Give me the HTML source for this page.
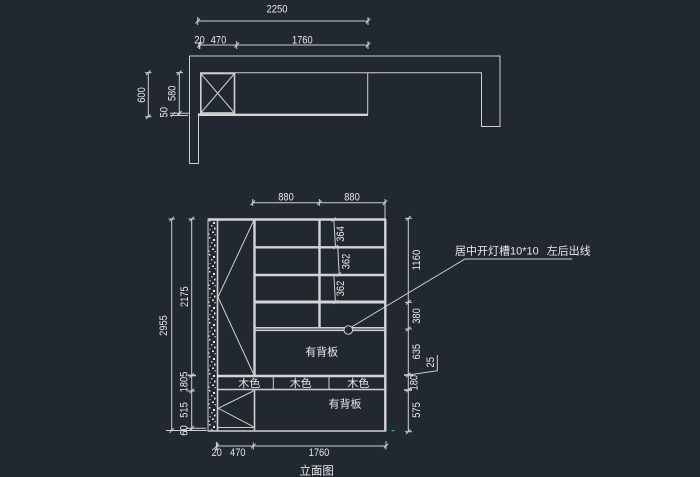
<!DOCTYPE html>
<html>
<head>
<meta charset="utf-8">
<style>
html,body{margin:0;padding:0;background:#222830;}
svg{display:block;}
.t{fill:#e8e8e8;font-family:"Liberation Sans","Noto Sans CJK SC",sans-serif;font-size:11px;}
.c{fill:#e8e8e8;font-family:"Liberation Sans","Noto Sans CJK SC",sans-serif;font-size:11px;}
.l{stroke:#cfcfcf;stroke-width:1;fill:none;}
.k{stroke:#d4d4d4;stroke-width:2.4;fill:none;}
.m{stroke:#cfcfcf;stroke-width:1.6;fill:none;}
</style>
</head>
<body>
<svg width="700" height="477" viewBox="0 0 700 477" xmlns="http://www.w3.org/2000/svg">
<defs>
<pattern id="sp" x="208" y="219" width="8" height="17" patternUnits="userSpaceOnUse">
<rect x="1" y="1" width="1.5" height="1.5" fill="#e0e0e0"/>
<rect x="5" y="3" width="2" height="2" fill="#e8e8e8"/>
<rect x="3" y="6" width="1.5" height="1.5" fill="#d0d0d0"/>
<rect x="6" y="8.5" width="1.5" height="2" fill="#e8e8e8"/>
<rect x="1.5" y="10" width="1.2" height="1.2" fill="#c8c8c8"/>
<rect x="4" y="12.5" width="2" height="1.5" fill="#e0e0e0"/>
<rect x="0.5" y="14.5" width="1.2" height="1.2" fill="#d8d8d8"/>
<rect x="6.5" y="15" width="1.3" height="1.3" fill="#d0d0d0"/>
</pattern>
</defs>
<rect width="700" height="477" fill="#222830"/>

<!-- ===== TOP PLAN ===== -->
<line class="l" x1="197.7" y1="21" x2="368" y2="21"/>
<line class="l" x1="197.7" y1="17" x2="197.7" y2="25"/>
<line class="l" x1="195.5" y1="23.5" x2="200" y2="18.5"/>
<line class="l" x1="368" y1="17" x2="368" y2="25"/>
<line class="l" x1="365.8" y1="23.5" x2="370.3" y2="18.5"/>
<text class="t" x="277" y="12.5" text-anchor="middle" textLength="21" lengthAdjust="spacingAndGlyphs">2250</text>

<line class="l" x1="198" y1="45" x2="368" y2="45"/>
<line class="m" x1="199.5" y1="42" x2="199.5" y2="49"/>
<line class="l" x1="197.3" y1="47.5" x2="201.8" y2="42.5"/>
<line class="l" x1="236.7" y1="41" x2="236.7" y2="49"/>
<line class="l" x1="234.5" y1="47.5" x2="239" y2="42.5"/>
<line class="l" x1="368" y1="41" x2="368" y2="49"/>
<line class="l" x1="365.8" y1="47.5" x2="370.3" y2="42.5"/>
<text class="t" x="199.5" y="43.5" text-anchor="middle" textLength="10.5" lengthAdjust="spacingAndGlyphs">20</text>
<text class="t" x="218.5" y="43.5" text-anchor="middle" textLength="15.5" lengthAdjust="spacingAndGlyphs">470</text>
<text class="t" x="302.3" y="43.5" text-anchor="middle" textLength="20.7" lengthAdjust="spacingAndGlyphs">1760</text>

<path class="l" d="M198.5,113 V163.5 H189.5 V56 H500 V126.5 H481.5 V72.7 H200"/>
<line class="l" x1="367.7" y1="72.7" x2="367.7" y2="115"/>
<rect class="m" x="200.8" y="73.5" width="33.7" height="39.5"/>
<line class="l" x1="200.8" y1="73.5" x2="234.5" y2="113"/>
<line class="l" x1="234.5" y1="73.5" x2="200.8" y2="113"/>
<line class="k" x1="198" y1="114.8" x2="368" y2="114.8"/>

<line class="l" x1="148.3" y1="72.7" x2="148.3" y2="116.7"/>
<line class="l" x1="145" y1="72.7" x2="151.5" y2="72.7"/>
<line class="l" x1="146" y1="75" x2="150.6" y2="70.4"/>
<line class="l" x1="145" y1="116.7" x2="151.5" y2="116.7"/>
<line class="l" x1="146" y1="119" x2="150.6" y2="114.4"/>
<text class="t" transform="translate(145,95) rotate(-90)" text-anchor="middle" textLength="15.5" lengthAdjust="spacingAndGlyphs">600</text>

<line class="l" x1="179.3" y1="72.7" x2="179.3" y2="116"/>
<line class="l" x1="176" y1="72.7" x2="183" y2="72.7"/>
<line class="l" x1="177" y1="75" x2="181.6" y2="70.4"/>
<line class="l" x1="170" y1="113.3" x2="190" y2="113.3"/>
<line class="l" x1="170" y1="115.5" x2="188" y2="115.5"/>
<line class="l" x1="177" y1="115.6" x2="181.6" y2="111"/>
<line class="l" x1="171" y1="117" x2="175" y2="112"/>
<text class="t" transform="translate(175.5,93.3) rotate(-90)" text-anchor="middle" textLength="15.5" lengthAdjust="spacingAndGlyphs">580</text>
<text class="t" transform="translate(167.5,112.3) rotate(-90)" text-anchor="middle" textLength="10.5" lengthAdjust="spacingAndGlyphs">50</text>

<!-- ===== ELEVATION ===== -->
<line class="l" x1="252.7" y1="202.7" x2="385" y2="202.7"/>
<line class="l" x1="252.7" y1="199" x2="252.7" y2="206"/>
<line class="l" x1="250.5" y1="205" x2="255" y2="200.4"/>
<line class="l" x1="319.3" y1="199" x2="319.3" y2="206"/>
<line class="l" x1="317.1" y1="205" x2="321.6" y2="200.4"/>
<line class="l" x1="385" y1="199" x2="385" y2="219"/>
<line class="l" x1="382.8" y1="205" x2="387.3" y2="200.4"/>
<text class="t" x="286" y="200.3" text-anchor="middle" textLength="15.5" lengthAdjust="spacingAndGlyphs">880</text>
<text class="t" x="352" y="200.3" text-anchor="middle" textLength="15.5" lengthAdjust="spacingAndGlyphs">880</text>

<rect x="208.5" y="219.5" width="8" height="211.5" fill="url(#sp)"/>
<line class="l" x1="208" y1="219.3" x2="208" y2="431.5"/>
<line class="m" x1="217.5" y1="219.3" x2="217.5" y2="431"/>

<line class="k" x1="207.7" y1="219.5" x2="386" y2="219.5"/>
<line class="k" x1="254.5" y1="219" x2="254.5" y2="376"/>
<line class="k" x1="385.3" y1="219" x2="385.3" y2="431.5"/>
<line class="k" x1="319.5" y1="219" x2="319.5" y2="328"/>
<line class="k" x1="254" y1="247.3" x2="385" y2="247.3"/>
<line class="k" x1="254" y1="275" x2="385" y2="275"/>
<line class="k" x1="254" y1="302" x2="385" y2="302" style="stroke-width:3"/>
<line class="m" x1="254" y1="327.8" x2="385" y2="327.8"/>
<line class="m" x1="254" y1="330.3" x2="385" y2="330.3"/>

<polyline class="l" points="254,220 218,297 254,375"/>

<line class="k" x1="217.5" y1="376" x2="385" y2="376"/>
<line class="m" x1="217.5" y1="389.5" x2="385" y2="389.5"/>
<line class="l" x1="273.3" y1="376" x2="273.3" y2="389.5"/>
<line class="l" x1="329" y1="376" x2="329" y2="389.5"/>

<line class="m" x1="254.5" y1="389.5" x2="254.5" y2="430.5"/>
<polyline class="l" points="253.3,391 218.3,408.3 253.3,426.7"/>
<line class="l" x1="218" y1="427.5" x2="254.5" y2="427.5"/>
<line class="m" x1="207.7" y1="431" x2="386" y2="431"/>
<rect x="391.5" y="430" width="3" height="1.3" fill="#20b0b0"/>

<text class="c" x="321.7" y="355.5" text-anchor="middle">有背板</text>
<text class="c" x="345" y="407.5" text-anchor="middle">有背板</text>
<text class="c" x="249.3" y="387" text-anchor="middle">木色</text>
<text class="c" x="300.7" y="387" text-anchor="middle">木色</text>
<text class="c" x="358.3" y="387" text-anchor="middle">木色</text>

<line class="l" x1="333.8" y1="219.5" x2="335.5" y2="247"/>
<line class="l" x1="337.8" y1="247.5" x2="339.2" y2="274.5"/>
<line class="l" x1="333.8" y1="275" x2="335.5" y2="302"/>
<line class="l" x1="331.5" y1="221.5" x2="336" y2="217.5"/>
<line class="l" x1="333.5" y1="249" x2="338" y2="245"/>
<line class="l" x1="336.5" y1="276.5" x2="341" y2="272.5"/>
<line class="l" x1="333.5" y1="304" x2="338" y2="300"/>
<text class="t" transform="translate(344,234) rotate(-90)" text-anchor="middle" textLength="15.5" lengthAdjust="spacingAndGlyphs">364</text>
<text class="t" transform="translate(349.5,261.5) rotate(-90)" text-anchor="middle" textLength="15.5" lengthAdjust="spacingAndGlyphs">362</text>
<text class="t" transform="translate(344,288.5) rotate(-90)" text-anchor="middle" textLength="15.5" lengthAdjust="spacingAndGlyphs">362</text>

<polyline class="l" points="351.5,327 465,259 572.3,259"/>
<circle cx="348.3" cy="330" r="4.3" fill="#222830" stroke="#cfcfcf" stroke-width="1"/>
<text class="c" x="455" y="254.5">居中开灯槽10*10</text>
<text class="c" x="546.7" y="254.5">左后出线</text>

<line class="l" x1="171.7" y1="219" x2="171.7" y2="431"/>
<line class="l" x1="168.5" y1="219" x2="175" y2="219"/>
<line class="l" x1="169.5" y1="221.3" x2="174" y2="216.7"/>
<line class="l" x1="166" y1="430.5" x2="207" y2="430.5"/>
<line class="l" x1="169.5" y1="432.8" x2="174" y2="428.2"/>
<text class="t" transform="translate(167,325.5) rotate(-90)" text-anchor="middle" textLength="20.7" lengthAdjust="spacingAndGlyphs">2955</text>

<line class="l" x1="191.7" y1="219" x2="191.7" y2="431"/>
<line class="l" x1="188.5" y1="219" x2="195" y2="219"/>
<line class="l" x1="189.5" y1="221.3" x2="194" y2="216.7"/>
<line class="m" x1="188" y1="375.5" x2="196" y2="375.5"/>
<line class="l" x1="189.5" y1="377.8" x2="194" y2="373.2"/>
<line class="l" x1="188" y1="391" x2="195" y2="391"/>
<line class="l" x1="189.5" y1="393.3" x2="194" y2="388.7"/>
<line class="l" x1="186" y1="428.3" x2="206" y2="428.3"/>
<line class="l" x1="189.5" y1="430.6" x2="194" y2="426"/>
<text class="t" transform="translate(188,296.7) rotate(-90)" text-anchor="middle" textLength="20.7" lengthAdjust="spacingAndGlyphs">2175</text>
<text class="t" transform="translate(187.5,382) rotate(-90)" text-anchor="middle" textLength="20.7" lengthAdjust="spacingAndGlyphs">1805</text>
<text class="t" transform="translate(187.5,410) rotate(-90)" text-anchor="middle" textLength="15.5" lengthAdjust="spacingAndGlyphs">515</text>
<text class="t" transform="translate(187.5,430.5) rotate(-90)" text-anchor="middle" textLength="10.5" lengthAdjust="spacingAndGlyphs">60</text>

<line class="l" x1="408.3" y1="218.3" x2="408.3" y2="431.7"/>
<line class="l" x1="405" y1="218.3" x2="412" y2="218.3"/>
<line class="l" x1="406" y1="220.6" x2="410.6" y2="216"/>
<line class="l" x1="405" y1="302.3" x2="412" y2="302.3"/>
<line class="l" x1="406" y1="304.6" x2="410.6" y2="300"/>
<line class="l" x1="405" y1="329" x2="412" y2="329"/>
<line class="l" x1="406" y1="331.3" x2="410.6" y2="326.7"/>
<line class="m" x1="404" y1="375" x2="413" y2="375"/>
<line class="l" x1="406" y1="377.3" x2="410.6" y2="372.7"/>
<line class="m" x1="404" y1="390" x2="412" y2="390"/>
<line class="l" x1="406" y1="392.3" x2="410.6" y2="387.7"/>
<line class="l" x1="405" y1="431.7" x2="412" y2="431.7"/>
<line class="l" x1="406" y1="434" x2="410.6" y2="429.4"/>
<text class="t" transform="translate(420,260) rotate(-90)" text-anchor="middle" textLength="20.7" lengthAdjust="spacingAndGlyphs">1160</text>
<text class="t" transform="translate(420,316) rotate(-90)" text-anchor="middle" textLength="15.5" lengthAdjust="spacingAndGlyphs">380</text>
<text class="t" transform="translate(420,351.7) rotate(-90)" text-anchor="middle" textLength="15.5" lengthAdjust="spacingAndGlyphs">635</text>
<text class="t" transform="translate(417.5,382.7) rotate(-90)" text-anchor="middle" textLength="15.5" lengthAdjust="spacingAndGlyphs">180</text>
<text class="t" transform="translate(420,410) rotate(-90)" text-anchor="middle" textLength="15.5" lengthAdjust="spacingAndGlyphs">575</text>
<polyline class="l" points="408.3,375 437.3,370.7 437.3,355"/>
<text class="t" transform="translate(434,362.3) rotate(-90)" text-anchor="middle" textLength="10.5" lengthAdjust="spacingAndGlyphs">25</text>

<line class="l" x1="216.7" y1="446" x2="386" y2="446"/>
<line class="m" x1="216.7" y1="442" x2="216.7" y2="450"/>
<line class="l" x1="214.5" y1="448.3" x2="219" y2="443.7"/>
<line class="l" x1="253.3" y1="442.5" x2="253.3" y2="449.5"/>
<line class="l" x1="251.1" y1="448.3" x2="255.6" y2="443.7"/>
<line class="l" x1="386" y1="441" x2="386" y2="449.5"/>
<line class="l" x1="383.8" y1="448.3" x2="388.3" y2="443.7"/>
<text class="t" x="216.7" y="456" text-anchor="middle" textLength="10.5" lengthAdjust="spacingAndGlyphs">20</text>
<text class="t" x="237.8" y="456" text-anchor="middle" textLength="15.5" lengthAdjust="spacingAndGlyphs">470</text>
<text class="t" x="319" y="456" text-anchor="middle" textLength="20.7" lengthAdjust="spacingAndGlyphs">1760</text>

<text class="c" x="316.7" y="474.5" text-anchor="middle" style="font-size:11.5px">立面图</text>
</svg>
</body>
</html>
